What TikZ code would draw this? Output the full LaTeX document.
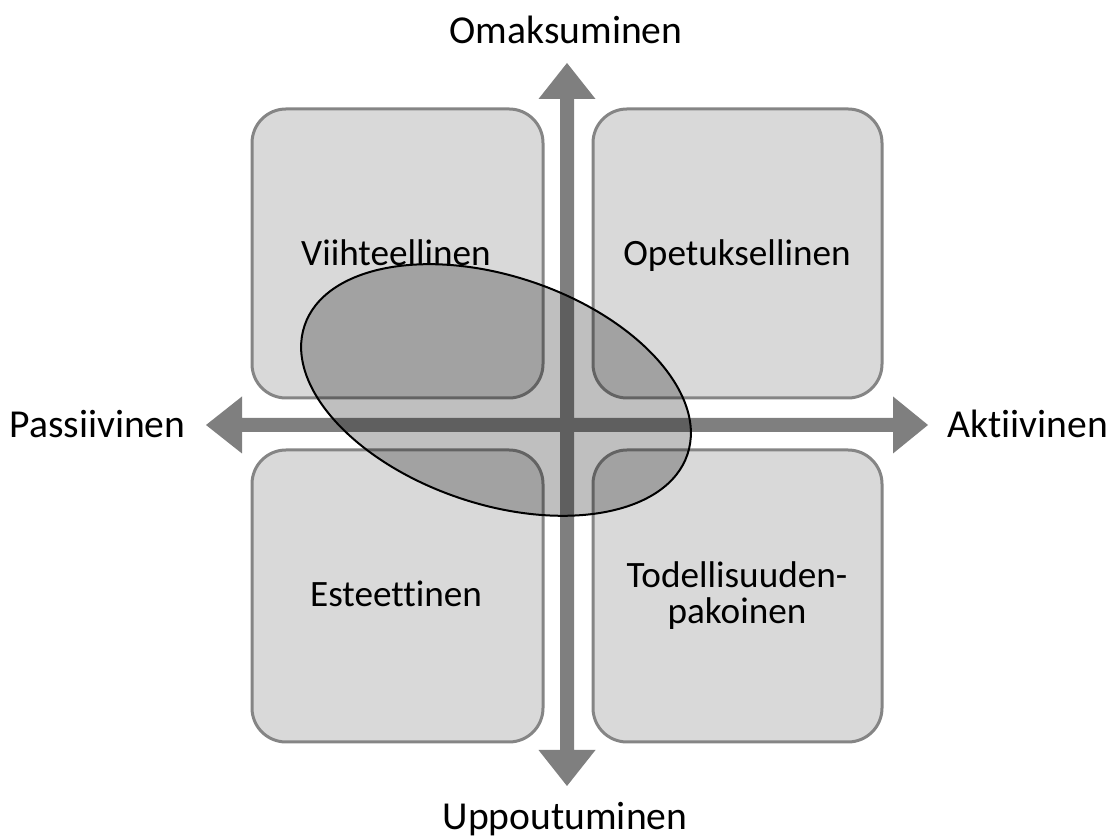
\documentclass[tikz,border=0pt]{standalone}
\usepackage{fontspec}
\setmainfont{Carlito}[Ligatures=NoCommon]
\definecolor{boxfill}{HTML}{D9D9D9}
\definecolor{boxline}{HTML}{858585}
\definecolor{axisgray}{HTML}{7F7F7F}
\tikzset{
  quadbox/.style={fill=boxfill, draw=boxline, line width=1.5pt, rounded corners=17pt},
  axisarrow/.style={fill=axisgray, draw=none},
  axislabel/.style={font=\fontsize{19.8pt}{24pt}\selectfont, anchor=base, inner sep=0pt},
  boxlabel/.style={font=\fontsize{18.6pt}{18pt}\selectfont, anchor=base, inner sep=0pt, align=center},
  zone/.style={fill=black, fill opacity=0.25, draw=black, draw opacity=1, line width=1pt}
}
\begin{document}
\begin{tikzpicture}[x=0.5pt, y=0.5pt]
\useasboundingbox (0,0) rectangle (1113,839);
% vertical axis arrow (y' = 839 - y)
\fill[axisarrow] (567,776) -- (595.5,740) -- (574,740) -- (574,89) -- (595.5,89) -- (567,53)
  -- (538.5,89) -- (560,89) -- (560,740) -- (538.5,740) -- cycle;
% horizontal axis arrow
\fill[axisarrow] (206,414) -- (242,442.5) -- (242,421) -- (893,421) -- (893,442.5) -- (928,414)
  -- (893,385.5) -- (893,407) -- (242,407) -- (242,385.5) -- cycle;
% quadrant boxes
\draw[quadbox] (252,441) rectangle (543,730);
\draw[quadbox] (593,441) rectangle (882,730);
\draw[quadbox] (252,97) rectangle (543,389);
\draw[quadbox] (593,97) rectangle (882,389);
% ellipse
\draw[zone] (496,449) ellipse [x radius=202, y radius=114, rotate=-18.6];
% labels
\node[axislabel] (omak) at (566,795) {Omaksuminen};
\node[axislabel] (uppo) at (565,9) {Uppoutuminen};
\node[axislabel] (pass) at (97.5,401) {Passiivinen};
\node[axislabel] (akti) at (1028,401) {Aktiivinen};
\node[boxlabel] (viih) at (396,573) {Viihteellinen};
\node[boxlabel] (opet) at (737,573) {Opetuksellinen};
\node[boxlabel] (este) at (396,232) {Esteettinen};
\node[boxlabel] (tode) at (737,215) {Todellisuuden-\\pakoinen};
\end{tikzpicture}
\end{document}
